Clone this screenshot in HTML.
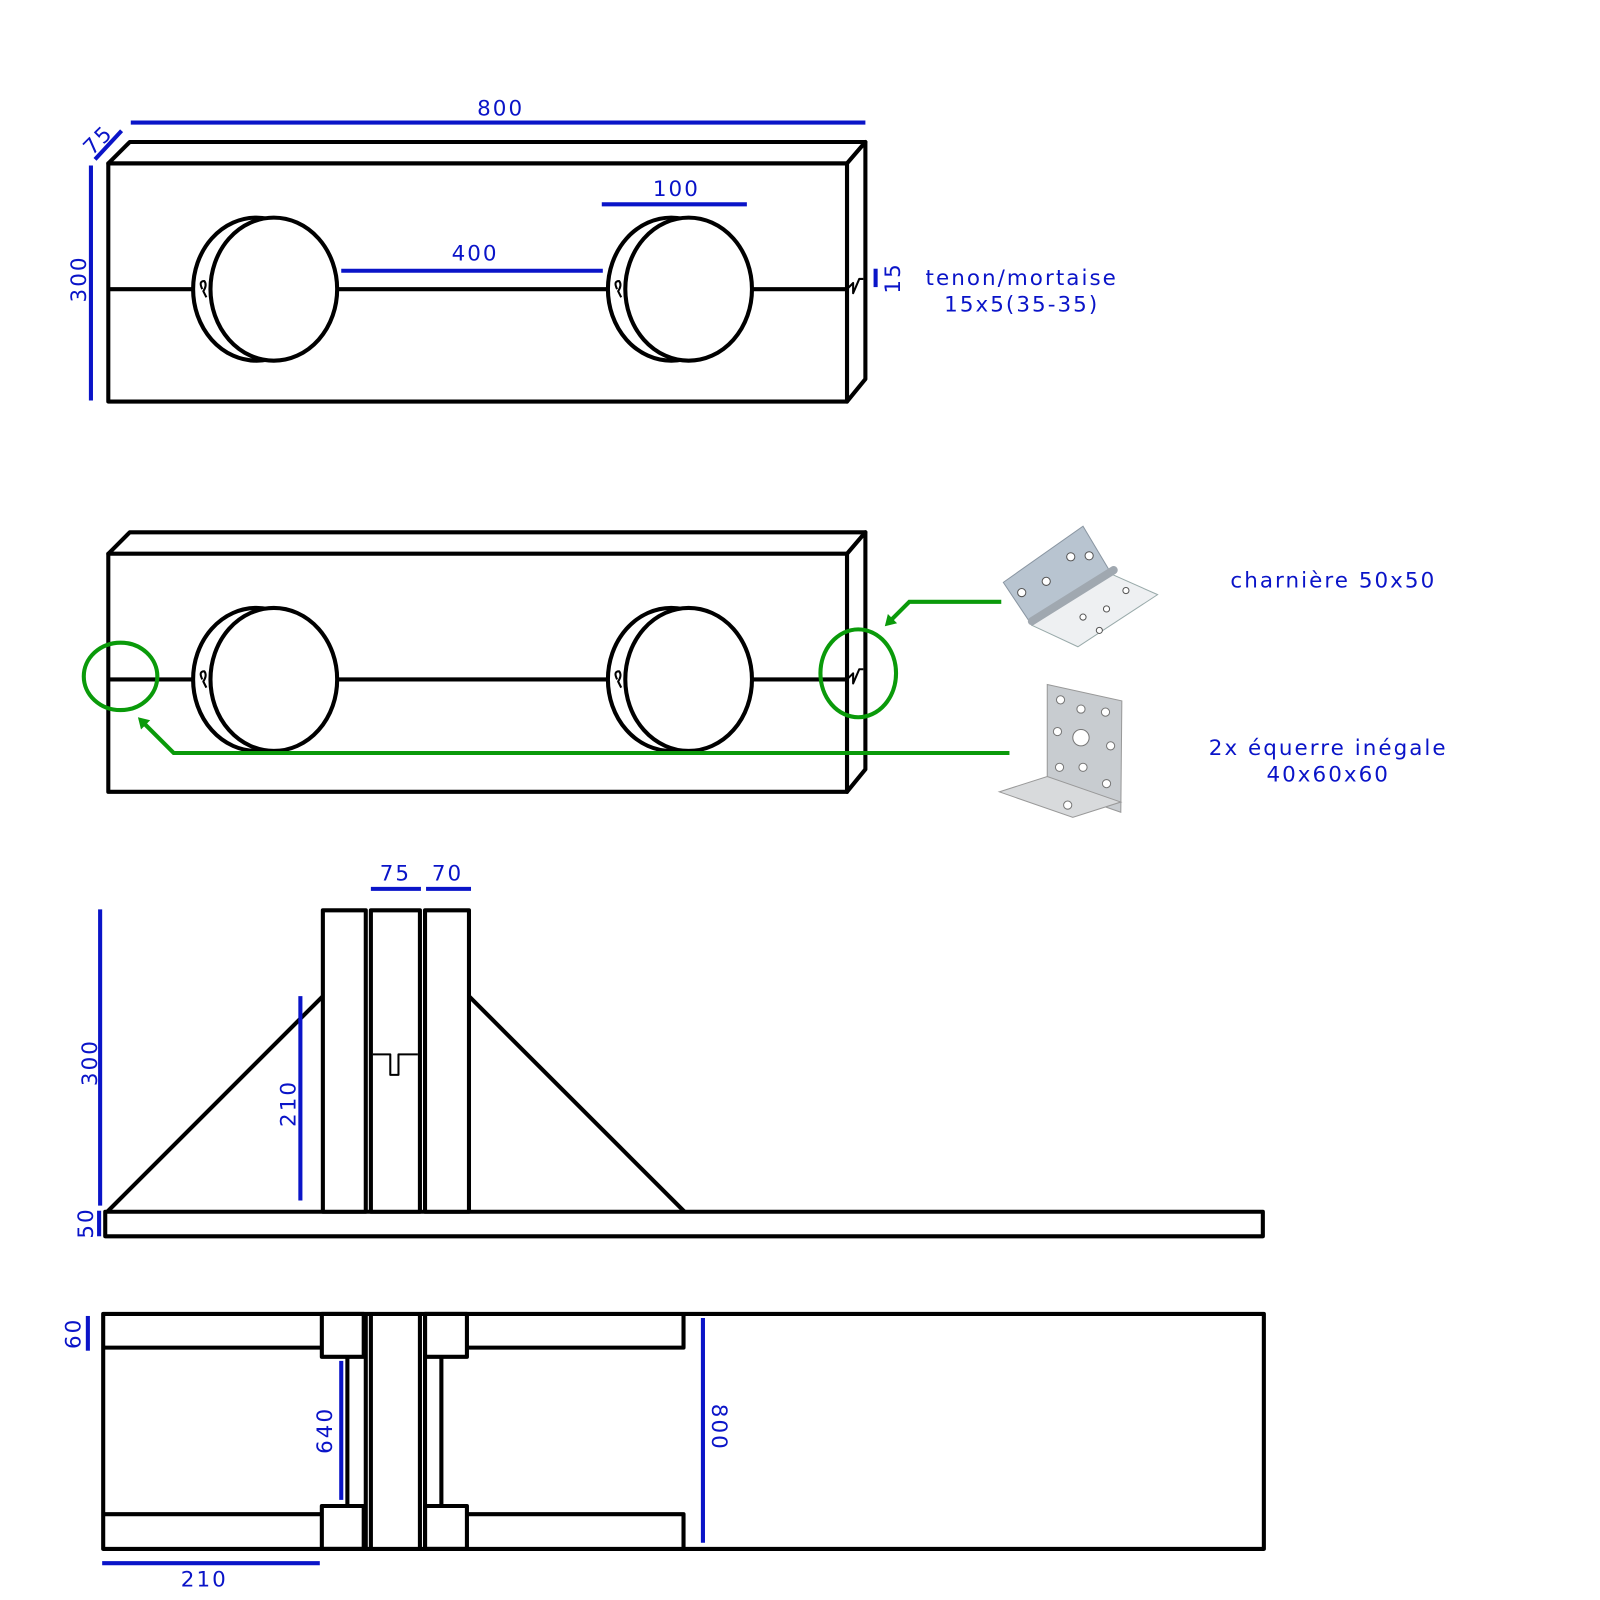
<!DOCTYPE html>
<html><head><meta charset="utf-8"><style>
html,body{margin:0;padding:0;background:#fff}
svg{display:block}
text{font-family:"DejaVu Sans","Liberation Sans",sans-serif;fill:#0a14c8;font-size:21px;letter-spacing:2px}
</style></head><body>
<svg width="1600" height="1600" viewBox="0 0 1566 1566" xmlns="http://www.w3.org/2000/svg">
<defs>
<g id="box" fill="none" stroke="#000" stroke-width="4" stroke-linejoin="round">
  <polygon points="106,160 127,139 847,139 829,160" fill="#fff"/>
  <polygon points="829,160 847,139 847,371 829,393" fill="#fff"/>
  <rect x="106" y="160" width="723" height="233" fill="#fff"/>
  <line x1="106" y1="283" x2="829" y2="283"/>
  <ellipse cx="251" cy="283" rx="62" ry="70" fill="#fff"/>
  <ellipse cx="268" cy="283" rx="62" ry="70" fill="#fff"/>
  <ellipse cx="657" cy="283" rx="62" ry="70" fill="#fff"/>
  <ellipse cx="674" cy="283" rx="62" ry="70" fill="#fff"/>
  <path d="M198,283 q-4,-8 2,-8 q3,4 -1,10 l3,6" stroke-width="2"/>
  <path d="M604,283 q-4,-8 2,-8 q3,4 -1,10 l3,6" stroke-width="2"/>
  <path d="M829,283 l6,-6 l0,10 l6,-14 l4,0" stroke-width="2"/>
</g>
</defs>
<use href="#box"/>
<use href="#box" y="382"/>

<g stroke="#0a14c8" stroke-width="4">
  <line x1="128" y1="120" x2="847" y2="120"/>
  <line x1="93" y1="156" x2="119" y2="128"/>
  <line x1="89" y1="162" x2="89" y2="392"/>
  <line x1="589" y1="200" x2="731" y2="200"/>
  <line x1="334" y1="265" x2="590" y2="265"/>
  <line x1="857" y1="263" x2="857" y2="281"/>
</g>
<text x="490" y="113" text-anchor="middle">800</text>
<text transform="translate(101,142) rotate(-45)" text-anchor="middle">75</text>
<text transform="translate(84,273) rotate(-90)" text-anchor="middle">300</text>
<text x="662" y="192" text-anchor="middle">100</text>
<text x="465" y="255" text-anchor="middle">400</text>
<text transform="translate(881,272) rotate(-90)" text-anchor="middle">15</text>
<text x="1000" y="279" text-anchor="middle">tenon/mortaise</text>
<text x="1000" y="305" text-anchor="middle">15x5(35-35)</text>

<g stroke="#0a9a0a" stroke-width="4" fill="none">
  <ellipse cx="118" cy="662" rx="36" ry="33"/>
  <ellipse cx="840" cy="659" rx="37" ry="43"/>
  <polyline points="980,589 890,589 872,607"/>
  <polyline points="988,737 170,737 141,708"/>
</g>
<polygon points="866,613 869,601 878,610" fill="#0a9a0a"/>
<polygon points="135,702 147,705 138,714" fill="#0a9a0a"/>

<g>
  <polygon points="982,570 1060,515 1088,562 1010,612" fill="#b8c4d0" stroke="#8a96a2"/>
  <polygon points="1010,612 1088,562 1133,582 1055,633" fill="#eef0f2" stroke="#9aa"/>
  <line x1="1010" y1="608" x2="1090" y2="558" stroke="#a0a8b0" stroke-width="8" stroke-linecap="round"/>
  <g fill="#fff" stroke="#555"><circle cx="1000" cy="580" r="4"/><circle cx="1048" cy="545" r="4"/><circle cx="1066" cy="544" r="4"/><circle cx="1024" cy="569" r="4"/><circle cx="1102" cy="578" r="3"/><circle cx="1083" cy="596" r="3"/><circle cx="1060" cy="604" r="3"/><circle cx="1076" cy="617" r="3"/></g>
</g>
<g>
  <polygon points="1025,670 1098,686 1097,795 1025,770" fill="#c8ccd0" stroke="#999"/>
  <polygon points="978,775 1025,760 1097,785 1050,800" fill="#d8dadc" stroke="#999"/>
  <g fill="#fff" stroke="#777"><circle cx="1038" cy="685" r="4"/><circle cx="1058" cy="694" r="4"/><circle cx="1082" cy="697" r="4"/><circle cx="1035" cy="716" r="4"/><circle cx="1058" cy="722" r="8"/><circle cx="1087" cy="730" r="4"/><circle cx="1037" cy="751" r="4"/><circle cx="1060" cy="751" r="4"/><circle cx="1083" cy="767" r="4"/><circle cx="1045" cy="788" r="4"/></g>
</g>
<text x="1305" y="575" text-anchor="middle">charnière 50x50</text>
<text x="1300" y="739" text-anchor="middle">2x équerre inégale</text>
<text x="1300" y="765" text-anchor="middle">40x60x60</text>

<g fill="none" stroke="#000" stroke-width="4" stroke-linejoin="round">
  <line x1="316" y1="975" x2="105" y2="1186"/>
  <line x1="459" y1="975" x2="670" y2="1186"/>
  <rect x="103" y="1186" width="1133" height="24" fill="#fff"/>
  <rect x="316" y="891" width="42" height="295" fill="#fff"/>
  <rect x="363" y="891" width="48" height="295" fill="#fff"/>
  <rect x="416" y="891" width="43" height="295" fill="#fff"/>
  <polyline points="365,1032 382,1032 382,1052 390,1052 390,1032 409,1032" stroke-width="2"/>
</g>
<g stroke="#0a14c8" stroke-width="4">
  <line x1="363" y1="870" x2="412" y2="870"/>
  <line x1="417" y1="870" x2="461" y2="870"/>
  <line x1="98" y1="890" x2="98" y2="1180"/>
  <line x1="294" y1="975" x2="294" y2="1175"/>
  <line x1="97" y1="1185" x2="97" y2="1210"/>
</g>
<text x="387" y="862" text-anchor="middle">75</text>
<text x="438" y="862" text-anchor="middle">70</text>
<text transform="translate(95,1040) rotate(-90)" text-anchor="middle">300</text>
<text transform="translate(289,1080) rotate(-90)" text-anchor="middle">210</text>
<text transform="translate(91,1197) rotate(-90)" text-anchor="middle">50</text>

<g fill="none" stroke="#000" stroke-width="4" stroke-linejoin="round">
  <rect x="101" y="1286" width="1136" height="230" fill="#fff"/>
  <line x1="101" y1="1319" x2="315" y2="1319"/>
  <line x1="101" y1="1482" x2="315" y2="1482"/>
  <polyline points="456,1319 669,1319 669,1286"/>
  <polyline points="456,1482 669,1482 669,1516"/>
  <rect x="315" y="1286" width="41" height="42"/>
  <rect x="416" y="1286" width="41" height="42"/>
  <rect x="315" y="1474" width="41" height="42"/>
  <rect x="416" y="1474" width="41" height="42"/>
  <line x1="358" y1="1286" x2="358" y2="1516"/>
  <line x1="363" y1="1286" x2="363" y2="1516"/>
  <line x1="411" y1="1286" x2="411" y2="1516"/>
  <line x1="416" y1="1286" x2="416" y2="1516"/>
  <line x1="340" y1="1328" x2="340" y2="1474"/>
  <line x1="432" y1="1328" x2="432" y2="1474"/>
</g>
<g stroke="#0a14c8" stroke-width="4">
  <line x1="86" y1="1288" x2="86" y2="1322"/>
  <line x1="334" y1="1332" x2="334" y2="1468"/>
  <line x1="688" y1="1290" x2="688" y2="1510"/>
  <line x1="100" y1="1530" x2="313" y2="1530"/>
</g>
<text transform="translate(79,1305) rotate(-90)" text-anchor="middle">60</text>
<text transform="translate(325,1400) rotate(-90)" text-anchor="middle">640</text>
<text transform="translate(697,1397) rotate(90)" text-anchor="middle">800</text>
<text x="200" y="1553" text-anchor="middle">210</text>
</svg>
</body></html>
